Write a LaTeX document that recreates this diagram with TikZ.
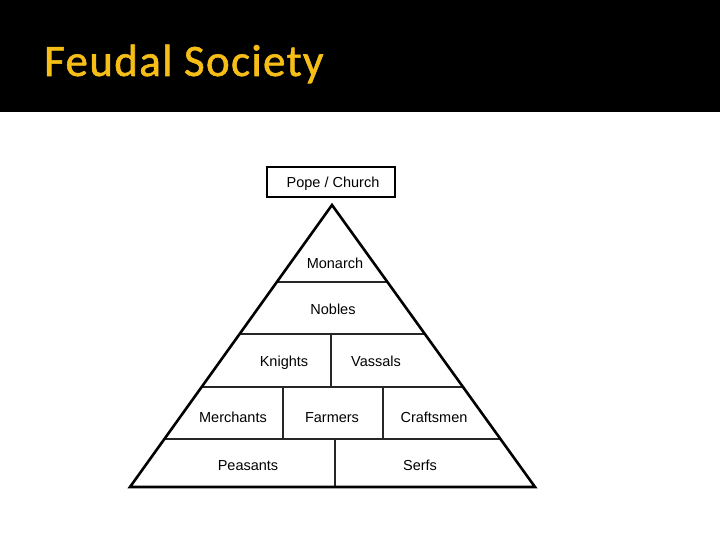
\documentclass[tikz,border=0pt]{standalone}
\usepackage{fontspec}
\setmainfont{Liberation Sans}
\newfontfamily\titlefont[LetterSpace=3, FakeBold=1.2]{Carlito}
\usepackage{xcolor}
\usetikzlibrary{calc}
\definecolor{titlegold}{RGB}{246,190,22}
\tikzset{
  rank/.style={anchor=base, inner sep=0pt, font=\fontsize{14.5}{17}\selectfont},
  edge/.style={line width=2.6pt, line join=miter},
  tier/.style={line width=1.6pt, draw=black!85},
}

\begin{document}
\begin{tikzpicture}[x=1pt, y=-1pt]
  \useasboundingbox (0,0) rectangle (720,540);
  \fill[black] (0,0) rectangle (720,112);
  \node[anchor=base west, inner sep=0pt, text=titlegold,
        font=\titlefont\fontsize{45}{50}\selectfont] (title) at (44,76) {Feudal Society};

  % pope box
  \draw[line width=2.2pt] (267,167) rectangle (395,197);
  \node[rank] (pope) at (333,188) {Pope / Church};

  % pyramid outline
  \coordinate (apex) at (332,205);
  \coordinate (bl) at (130,487);
  \coordinate (br) at (535,487);

  % tier lines
  \foreach \t/\n in {0.273/a, 0.457/b, 0.645/c, 0.830/d} {
    \coordinate (l\n) at ($(apex)!\t!(bl)$);
    \coordinate (r\n) at ($(apex)!\t!(br)$);
    \draw[tier] (l\n) -- (r\n);
  }
  \draw[tier] (331,334) -- (331,387);
  \draw[tier] (283,387) -- (283,439);
  \draw[tier] (383,387) -- (383,439);
  \draw[tier] (335,439) -- (335,487);

  \draw[edge] (apex) -- (bl) -- (br) -- cycle;

  \node[rank] (monarch)   at (335,268) {Monarch};
  \node[rank] (nobles)    at (333,314) {Nobles};
  \node[rank] (knights)   at (284,366) {Knights};
  \node[rank] (vassals)   at (376,366) {Vassals};
  \node[rank] (merchants) at (233,422) {Merchants};
  \node[rank] (farmers)   at (332,422) {Farmers};
  \node[rank] (craftsmen) at (434,422) {Craftsmen};
  \node[rank] (peasants)  at (248,470) {Peasants};
  \node[rank] (serfs)     at (420,470) {Serfs};
\end{tikzpicture}
\end{document}
